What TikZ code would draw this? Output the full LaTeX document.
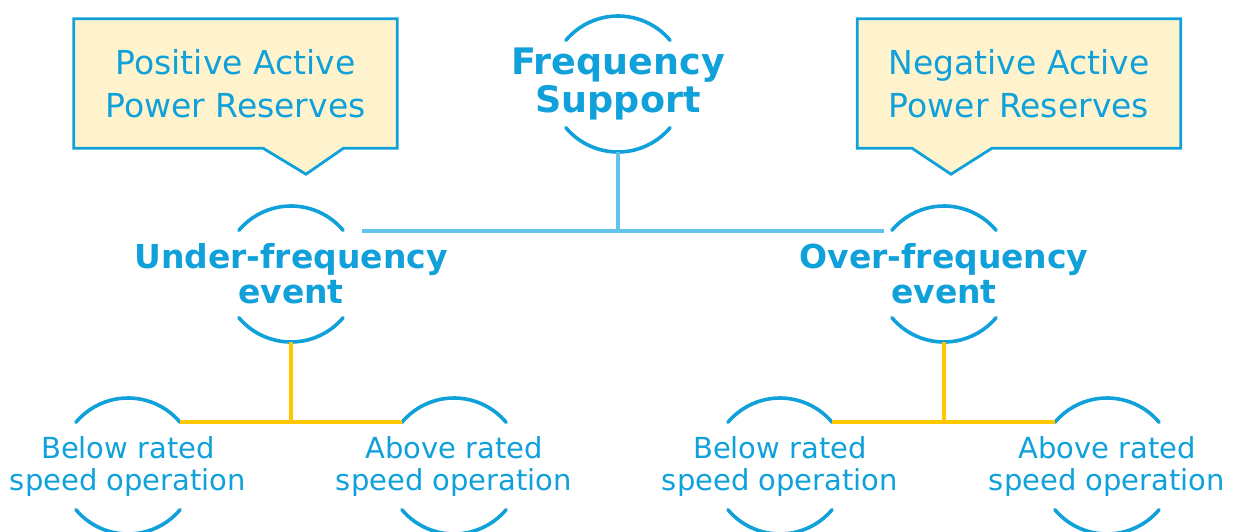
\documentclass[tikz,border=0pt]{standalone}
\usepackage{fontspec}
\setmainfont{DejaVu Sans}
\usetikzlibrary{backgrounds}
\definecolor{ringblue}{RGB}{16,160,218}
\definecolor{linkblue}{RGB}{96,196,236}
\definecolor{linkyellow}{RGB}{255,200,0}
\definecolor{notefill}{RGB}{254,243,204}
\tikzset{
  ring/.style={draw=ringblue, line width=3.6pt, line cap=round},
  headtxt/.style={text=ringblue, font=\bfseries\fontsize{36.5}{38}\selectfont, align=center, inner sep=0pt},
  eventtxt/.style={text=ringblue, font=\bfseries\fontsize{33}{35}\selectfont, align=center, inner sep=0pt},
  modetxt/.style={text=ringblue, font=\fontsize{29}{32}\selectfont, align=center, inner sep=0pt},
  notetxt/.style={text=ringblue, font=\fontsize{33}{43}\selectfont, align=center, inner sep=0pt,
                  minimum width=323pt, minimum height=129pt},
  notebox/.style={draw=ringblue, fill=notefill, line width=2.8pt, line join=miter},
  bluelink/.style={draw=linkblue, line width=3.4pt},
  yellowlink/.style={draw=linkyellow, line width=3.4pt},
}
% two arcs of a ring of radius 68pt round a node centre
\newcommand{\ringarcs}[1]{%
  \draw[ring] ([shift={(40:68pt)}]#1.center) arc[start angle=40, end angle=140, radius=68pt];
  \draw[ring] ([shift={(-140:68pt)}]#1.center) arc[start angle=-140, end angle=-40, radius=68pt];
}
\begin{document}
\begin{tikzpicture}[x=1pt, y=-1pt]
\useasboundingbox (0,0) rectangle (1235,531);

% root
\node[headtxt] (fs) at (618,84) {Frequency\\Support};
\ringarcs{fs}

% events
\node[eventtxt] (uf) at (291,274) {Under-frequency\\event};
\node[eventtxt] (of) at (944,274) {Over-frequency\\event};
\ringarcs{uf}
\ringarcs{of}

% operating regions
\node[modetxt] (ub) at (128,466) {Below rated\\speed operation};
\node[modetxt] (ua) at (454,466) {Above rated\\speed operation};
\node[modetxt] (ob) at (780,466) {Below rated\\speed operation};
\node[modetxt] (oa) at (1107,466) {Above rated\\speed operation};
\ringarcs{ub}
\ringarcs{ua}
\ringarcs{ob}
\ringarcs{oa}

% reserve notes
\node[notetxt] (pos) at (235.5,83.5) {Positive Active\\Power Reserves};
\node[notetxt] (neg) at (1019,83.5) {Negative Active\\Power Reserves};
\begin{scope}[on background layer]
  \path[notebox] (pos.north west) -- (pos.north east) -- (pos.south east)
    -- ([xshift=108pt]pos.south) -- ([xshift=70.5pt,yshift=-26pt]pos.south)
    -- ([xshift=27.5pt]pos.south) -- (pos.south west) -- cycle;
  \path[notebox] (neg.north west) -- (neg.north east) -- (neg.south east)
    -- ([xshift=-27pt]neg.south) -- ([xshift=-68pt,yshift=-26pt]neg.south)
    -- ([xshift=-107pt]neg.south) -- (neg.south west) -- cycle;
\end{scope}

% blue tree links
\coordinate (fsfoot) at ([yshift=-68pt]fs.center);
\coordinate (busl) at (362,231);
\coordinate (busr) at (884,231);
\draw[bluelink] (fsfoot) -- (fsfoot |- busl);
\draw[bluelink] (busl) -- (busr);

% yellow tree links
\coordinate (ufoot) at ([yshift=-68pt]uf.center);
\coordinate (ofoot) at ([yshift=-68pt]of.center);
\coordinate (ul) at ([shift={(52pt,44pt)}]ub.center);
\coordinate (ur) at ([shift={(-52pt,44pt)}]ua.center);
\coordinate (ol) at ([shift={(52pt,44pt)}]ob.center);
\coordinate (or) at ([shift={(-52pt,44pt)}]oa.center);
\draw[yellowlink] (ufoot) -- (ufoot |- ul);
\draw[yellowlink] (ul) -- (ur);
\draw[yellowlink] (ofoot) -- (ofoot |- ol);
\draw[yellowlink] (ol) -- (or);
\end{tikzpicture}
\end{document}
